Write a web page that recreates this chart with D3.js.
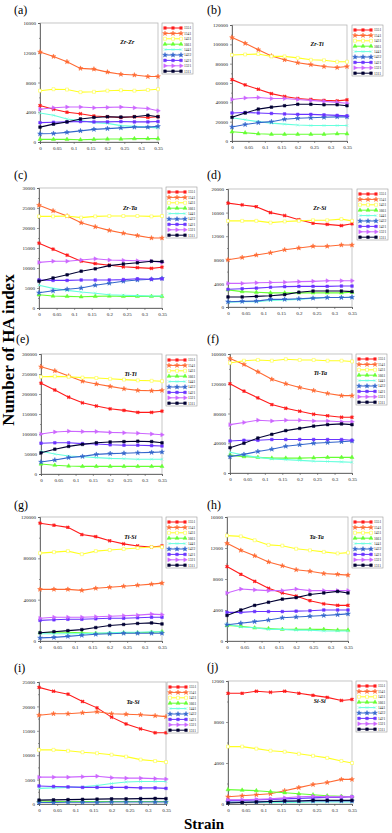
<!DOCTYPE html>
<html lang="en">
<head>
<meta charset="UTF-8"/>
<title>Number of HA index vs strain</title>
<script src="https://d3js.org/d3.v7.min.js"></script>
<style>
	body { margin: 0; background: #fff; }
	svg { display: block; font-family: "Liberation Serif", "DejaVu Serif", serif; }
</style>
</head>
<body>
<script>
	// strain values of the sampled points and the HA indices (series)
	var strain = [0, 0.04, 0.08, 0.12, 0.16, 0.2, 0.24, 0.28, 0.32, 0.35];
	var haIndex = ["1551", "1541", "1431", "1661", "1441", "1422", "1421", "1321", "1311"];
	var xTicks = [0, 0.05, 0.1, 0.15, 0.2, 0.25, 0.3, 0.35];
	var xTickLabels = ["0", "0.05", "0.1", "0.15", "0.2", "0.25", "0.3", "0.35"];

	var panelLetters = ["(a)", "(b)", "(c)", "(d)", "(e)", "(f)", "(g)", "(h)", "(i)", "(j)"];
	var panelTitles = ["Zr-Zr", "Zr-Ti", "Zr-Ta", "Zr-Si", "Ti-Ti", "Ti-Ta", "Ti-Si", "Ta-Ta", "Ta-Si", "Si-Si"];
	var yMax = [16000, 120000, 30000, 20000, 300000, 160000, 120000, 16000, 25000, 12000];
	var yStep = [4000, 20000, 5000, 4000, 50000, 40000, 40000, 4000, 5000, 4000];

	// rows follow haIndex order: 1551,1541,1431,1661,1441,1422,1421,1321,1311
	var zrZr = [
		[4900, 4400, 4000, 3800, 3500, 3400, 3300, 3400, 3300, 3400],
		[12100, 11500, 10800, 9900, 9800, 9400, 9100, 9000, 8800, 8800],
		[6900, 7100, 7050, 6700, 6750, 6900, 6950, 6900, 7000, 7100],
		[350, 350, 350, 300, 350, 400, 400, 450, 450, 450],
		[3900, 3600, 3100, 2900, 2600, 2500, 2200, 2100, 2000, 1900],
		[1100, 1150, 1300, 1500, 1700, 1800, 1900, 2000, 2000, 2100],
		[2600, 2650, 2700, 2750, 2700, 2700, 2750, 2700, 2700, 2750],
		[4400, 4600, 4700, 4700, 4600, 4650, 4700, 4600, 4500, 4200],
		[2000, 2400, 2700, 3100, 3300, 3400, 3350, 3400, 3600, 3400]
	];
	var zrTi = [
		[63500, 58000, 53500, 49000, 46000, 44000, 43000, 42000, 41500, 42500],
		[107000, 101000, 94500, 88000, 84000, 81000, 79000, 77000, 76000, 77000],
		[89000, 89500, 90000, 87500, 87500, 86000, 84000, 83500, 82000, 82000],
		[9500, 8500, 7500, 7000, 7000, 7000, 7000, 7000, 7500, 7500],
		[24000, 22000, 20000, 18500, 17500, 16500, 16000, 16000, 16000, 16000],
		[14500, 17000, 19000, 20000, 22500, 23500, 24000, 24500, 25000, 25000],
		[29000, 29500, 29000, 28500, 28000, 27500, 27500, 27000, 26500, 26000],
		[43000, 44500, 45000, 44000, 44000, 43000, 42000, 41000, 40000, 39000],
		[24500, 29000, 33000, 35000, 36500, 38000, 38000, 37500, 37500, 36500]
	];
	var zrTa = [
		[16200, 14700, 13200, 11700, 11100, 10700, 10300, 10100, 9900, 10200],
		[25700, 24300, 23000, 21300, 20300, 19400, 18700, 18100, 17500, 17500],
		[22900, 22900, 23000, 22600, 22900, 23000, 23000, 23000, 22900, 23000],
		[3300, 3000, 2900, 2800, 2900, 3000, 2900, 2900, 2900, 2900],
		[5700, 4900, 4400, 4000, 3700, 3300, 3200, 3100, 3000, 3000],
		[3800, 4300, 4700, 5000, 5700, 6200, 6700, 7000, 7200, 7400],
		[7000, 6900, 6900, 7000, 7000, 7000, 7100, 7300, 7200, 7300],
		[11400, 11700, 11700, 12000, 12300, 12000, 11900, 11800, 11700, 11400],
		[6700, 7500, 8300, 9200, 9800, 10600, 11000, 11300, 11700, 11600]
	];
	var zrSi = [
		[17600, 17300, 17000, 16000, 15500, 14800, 14200, 14000, 13800, 14100],
		[8000, 8400, 8800, 9200, 9700, 10000, 10300, 10300, 10500, 10500],
		[14600, 14600, 14600, 14300, 14500, 14600, 14700, 14700, 14900, 14600],
		[2900, 2600, 2500, 2400, 2400, 2400, 2400, 2400, 2400, 2500],
		[800, 900, 900, 1100, 1200, 1300, 1500, 1600, 1600, 1650],
		[900, 950, 1000, 1300, 1300, 1400, 1500, 1600, 1600, 1650],
		[3000, 3100, 3200, 3350, 3450, 3500, 3500, 3500, 3550, 3550],
		[4000, 4000, 4100, 4150, 4200, 4300, 4350, 4450, 4450, 4450],
		[1700, 1700, 1800, 1900, 2100, 2500, 2700, 2700, 2700, 2600]
	];
	var tiTi = [
		[227000, 210000, 192000, 178000, 170000, 163000, 159000, 154000, 154000, 157000],
		[268000, 258000, 245000, 232000, 225000, 219000, 213000, 209000, 208000, 209000],
		[243000, 244000, 243000, 241000, 240000, 238000, 236000, 234000, 233000, 232000],
		[25000, 22000, 20000, 19000, 19000, 19000, 19000, 19000, 19000, 19000],
		[57000, 50000, 45000, 43000, 41000, 39000, 38000, 37000, 37000, 37000],
		[30000, 35000, 41000, 44000, 49000, 51000, 52000, 53000, 54000, 55000],
		[77000, 78000, 78000, 76000, 75000, 73000, 72000, 72000, 71000, 70000],
		[100000, 105000, 107000, 106000, 106000, 104000, 103000, 102000, 100000, 98000],
		[53000, 62000, 69000, 74000, 78000, 80000, 81000, 82000, 81000, 78000]
	];
	var tiTa = [
		[120000, 110000, 101000, 92000, 87000, 83000, 79000, 77000, 75000, 75000],
		[154000, 146000, 136000, 126000, 120000, 115000, 111000, 107000, 104000, 104000],
		[148000, 151000, 152000, 151000, 153000, 152000, 152000, 151000, 151000, 150000],
		[24000, 22000, 21000, 20000, 20000, 20000, 20500, 21000, 21000, 21000],
		[28000, 24000, 21000, 19000, 18000, 17000, 16000, 15500, 15000, 14500],
		[22000, 25000, 29000, 32000, 36000, 38000, 40000, 41000, 42000, 43000],
		[43000, 44000, 44000, 45000, 45000, 45000, 45000, 45000, 45000, 44000],
		[65000, 68000, 71000, 70000, 71000, 71000, 70000, 70000, 69000, 69000],
		[34000, 40000, 47000, 52000, 57000, 60000, 63000, 65000, 66000, 65000]
	];
	var tiSi = [
		[114000, 112000, 110000, 103000, 101000, 97000, 94000, 92000, 91000, 92000],
		[50000, 50000, 50000, 49000, 51000, 52000, 53000, 54000, 55000, 56000],
		[85000, 86000, 87000, 84000, 87000, 88000, 89000, 90000, 91000, 91000],
		[8000, 8500, 8500, 8000, 7500, 7500, 8000, 8000, 8500, 9000],
		[7000, 7000, 7000, 7000, 7500, 8000, 8500, 8500, 9000, 9000],
		[3000, 3500, 4500, 5500, 6500, 7000, 7500, 7500, 7500, 7500],
		[20000, 20500, 21000, 21000, 21500, 22000, 22000, 22500, 23000, 23000],
		[22000, 23000, 23000, 23000, 23500, 24000, 24500, 25000, 26000, 25500],
		[8000, 9000, 10000, 11000, 13000, 15000, 16000, 17000, 17500, 16500]
	];
	var taTa = [
		[9600, 8600, 7700, 6800, 6200, 5800, 5200, 4800, 4600, 4600],
		[12600, 11700, 11000, 10200, 9700, 9200, 9000, 8700, 8600, 8500],
		[13600, 13500, 13000, 12400, 12300, 11900, 11700, 11500, 11300, 11400],
		[2000, 1900, 1700, 1600, 1500, 1500, 1500, 1500, 1400, 1400],
		[2200, 1800, 1700, 1500, 1500, 1400, 1400, 1300, 1300, 1300],
		[2100, 2300, 2500, 2700, 3000, 3100, 3200, 3300, 3400, 3500],
		[3700, 3700, 3800, 3800, 3800, 3850, 3900, 4000, 4000, 4000],
		[6200, 6700, 6600, 6500, 6500, 6700, 6500, 6500, 6500, 6500],
		[3300, 4000, 4600, 5000, 5400, 5600, 6000, 6200, 6400, 6200]
	];
	var taSi = [
		[23900, 23100, 22500, 21000, 19700, 17800, 16400, 15400, 14600, 14600],
		[18200, 18500, 18500, 18700, 18900, 18500, 18400, 18300, 18100, 17900],
		[11100, 11100, 10900, 10600, 10400, 10100, 9700, 9100, 8800, 8600],
		[600, 500, 500, 500, 500, 500, 500, 500, 500, 500],
		[3200, 3300, 3400, 3500, 3800, 4200, 4500, 4600, 4600, 4600],
		[300, 300, 350, 350, 350, 400, 400, 400, 400, 400],
		[3700, 3600, 3500, 3400, 3400, 3400, 3400, 3300, 3300, 3200],
		[5500, 5500, 5500, 5600, 5700, 5400, 5300, 5300, 5200, 5100],
		[800, 850, 900, 950, 1000, 1050, 1050, 1100, 1150, 1100]
	];
	var siSi = [
		[10800, 10800, 11000, 10900, 11000, 10800, 10600, 10400, 10100, 10200],
		[700, 800, 900, 1000, 1300, 1600, 1900, 2100, 2400, 2400],
		[5600, 5600, 5400, 5200, 5100, 4900, 4700, 4500, 4200, 4000],
		[1400, 1350, 1300, 1200, 1100, 1000, 900, 800, 750, 700],
		[150, 150, 150, 150, 150, 150, 200, 200, 200, 200],
		[200, 200, 200, 250, 250, 300, 300, 300, 300, 300],
		[350, 350, 400, 450, 500, 550, 600, 650, 650, 700],
		[400, 400, 450, 500, 600, 700, 750, 700, 700, 700],
		[100, 150, 200, 250, 300, 300, 350, 350, 350, 350]
	];
	var panelData = [zrZr, zrTi, zrTa, zrSi, tiTi, tiTa, tiSi, taTa, taSi, siSi];

	// series styles
	var colors = ["#ff1a1a", "#ff6a33", "#ffff22", "#66ff33", "#66ffdd", "#3366cc", "#6a33ff", "#cc66ff", "#000033"];
	var symbolTimes = d3.symbolTimes || d3.symbolCross;
	var shapes = [d3.symbolCross, d3.symbolStar, d3.symbolSquare, d3.symbolTriangle, symbolTimes,
		d3.symbolStar, d3.symbolSquare, d3.symbolTriangle, d3.symbolSquare];
	var rotations = [45, 0, 0, 0, 0, 0, 0, 90, 0];
	var hollow = [false, false, true, false, false, false, false, false, false];

	// plot boxes: left, right, top, bottom, legend x, legend y
	var boxes = [
		[40, 158, 23, 142, 162, 23], [232, 347, 25, 141, 352, 25],
		[39, 162, 188, 308, 166, 187], [228, 352, 189, 307, 357, 189],
		[41, 162, 354, 474, 166, 355], [230, 352, 354, 473, 356, 354],
		[40, 162, 517, 641, 166, 517], [227, 348, 517, 641, 352, 517],
		[39, 166, 682, 804, 167, 682], [228, 352, 681, 804, 356, 681]
	];
	var letterPos = [[14, 14], [207, 14], [14, 179], [207, 179], [16, 343], [207, 343],
		[14, 509], [207, 509], [14, 672], [207, 671]];

	var w = 392, h = 833;
	var svg = d3.select("body").append("svg").attr("width", w).attr("height", h);

	function marker(sel, i, size) {
		sel.attr("d", d3.symbol().type(shapes[i]).size(size))
			.attr("fill", hollow[i] ? "#fff" : colors[i])
			.attr("stroke", colors[i])
			.attr("stroke-width", i === 0 ? 0.4 : 0.5);
	}

	panelData.forEach(function (data, p) {
		var b = boxes[p];
		var g = svg.append("g");
		var xScale = d3.scaleLinear().domain([0, 0.35]).range([b[0], b[1]]);
		var yScale = d3.scaleLinear().domain([0, yMax[p]]).range([b[3], b[2]]);

		g.append("rect")
			.attr("x", b[0]).attr("y", b[2])
			.attr("width", b[1] - b[0]).attr("height", b[3] - b[2])
			.attr("fill", "none").attr("stroke", "#b8b8b8").attr("stroke-width", 0.8);

		var major = d3.range(0, yMax[p] + 1, yStep[p]);
		var minor = major.slice(1).map(function (v) { return v - yStep[p] / 2; });

		g.append("g").attr("transform", "translate(" + b[0] + ",0)")
			.call(d3.axisLeft(yScale).tickValues(major).tickSize(2).tickPadding(2)
				.tickFormat(d3.format("d")));
		g.append("g").attr("transform", "translate(" + b[0] + ",0)")
			.call(d3.axisLeft(yScale).tickValues(minor).tickSize(1).tickFormat(""))
			.select(".domain").remove();
		g.append("g").attr("transform", "translate(0," + b[3] + ")")
			.call(d3.axisBottom(xScale).tickValues(xTicks).tickSize(2).tickPadding(2)
				.tickFormat(function (d, i) { return xTickLabels[i]; }));

		g.selectAll(".domain").attr("stroke", "#555").attr("stroke-width", 0.8);
		g.selectAll(".tick line").attr("stroke", "#555").attr("stroke-width", 0.6);
		g.selectAll(".tick text").attr("font-size", 5).attr("fill", "#222")
			.attr("font-family", "Liberation Serif");

		var line = d3.line()
			.x(function (d, i) { return xScale(strain[i]); })
			.y(function (d) { return yScale(d); });

		data.forEach(function (series, s) {
			g.append("path").datum(series)
				.attr("d", line)
				.attr("fill", "none")
				.attr("stroke", colors[s])
				.attr("stroke-width", 1.1);
			g.selectAll(".m" + s).data(series).enter().append("path")
				.attr("class", "m" + s)
				.attr("transform", function (d, i) {
					return "translate(" + xScale(strain[i]) + "," + yScale(d) + ") rotate(" + rotations[s] + ")";
				})
				.call(marker, s, hollow[s] ? 9 : 7);
		});

		// pair title
		g.append("text")
			.attr("x", b[0] + (b[1] - b[0]) * 0.74)
			.attr("y", b[2] + (b[3] - b[2]) * 0.18)
			.attr("text-anchor", "middle")
			.attr("font-size", 6).attr("font-weight", "bold").attr("font-style", "italic")
			.text(panelTitles[p]);

		// legend
		var lg = g.append("g").attr("transform", "translate(" + b[4] + "," + b[5] + ")");
		lg.append("rect").attr("width", 31).attr("height", 51)
			.attr("fill", "#fff").attr("stroke", "#9a9a9a").attr("stroke-width", 0.6);
		haIndex.forEach(function (name, s) {
			var yy = 5 + s * 5.4;
			lg.append("line").attr("x1", 3).attr("x2", 19).attr("y1", yy).attr("y2", yy)
				.attr("stroke", colors[s]).attr("stroke-width", 1);
			[3, 11, 19].forEach(function (mx) {
				lg.append("path")
					.attr("transform", "translate(" + mx + "," + yy + ") rotate(" + rotations[s] + ")")
					.call(marker, s, hollow[s] ? 9 : 7);
			});
			lg.append("text").attr("x", 22).attr("y", yy + 1.3)
				.attr("font-size", 3.6).attr("fill", "#222").text(name);
		});

		svg.append("text")
			.attr("x", letterPos[p][0]).attr("y", letterPos[p][1])
			.attr("font-size", 12).text(panelLetters[p]);
	});

	// shared axis titles
	svg.append("text")
		.attr("transform", "translate(14,350) rotate(-90)")
		.attr("text-anchor", "middle")
		.attr("font-size", 17).attr("font-weight", "bold")
		.text("Number of HA index");
	svg.append("text")
		.attr("x", 204).attr("y", 829)
		.attr("text-anchor", "middle")
		.attr("font-size", 15).attr("font-weight", "bold")
		.text("Strain");
</script>
</body>
</html>
